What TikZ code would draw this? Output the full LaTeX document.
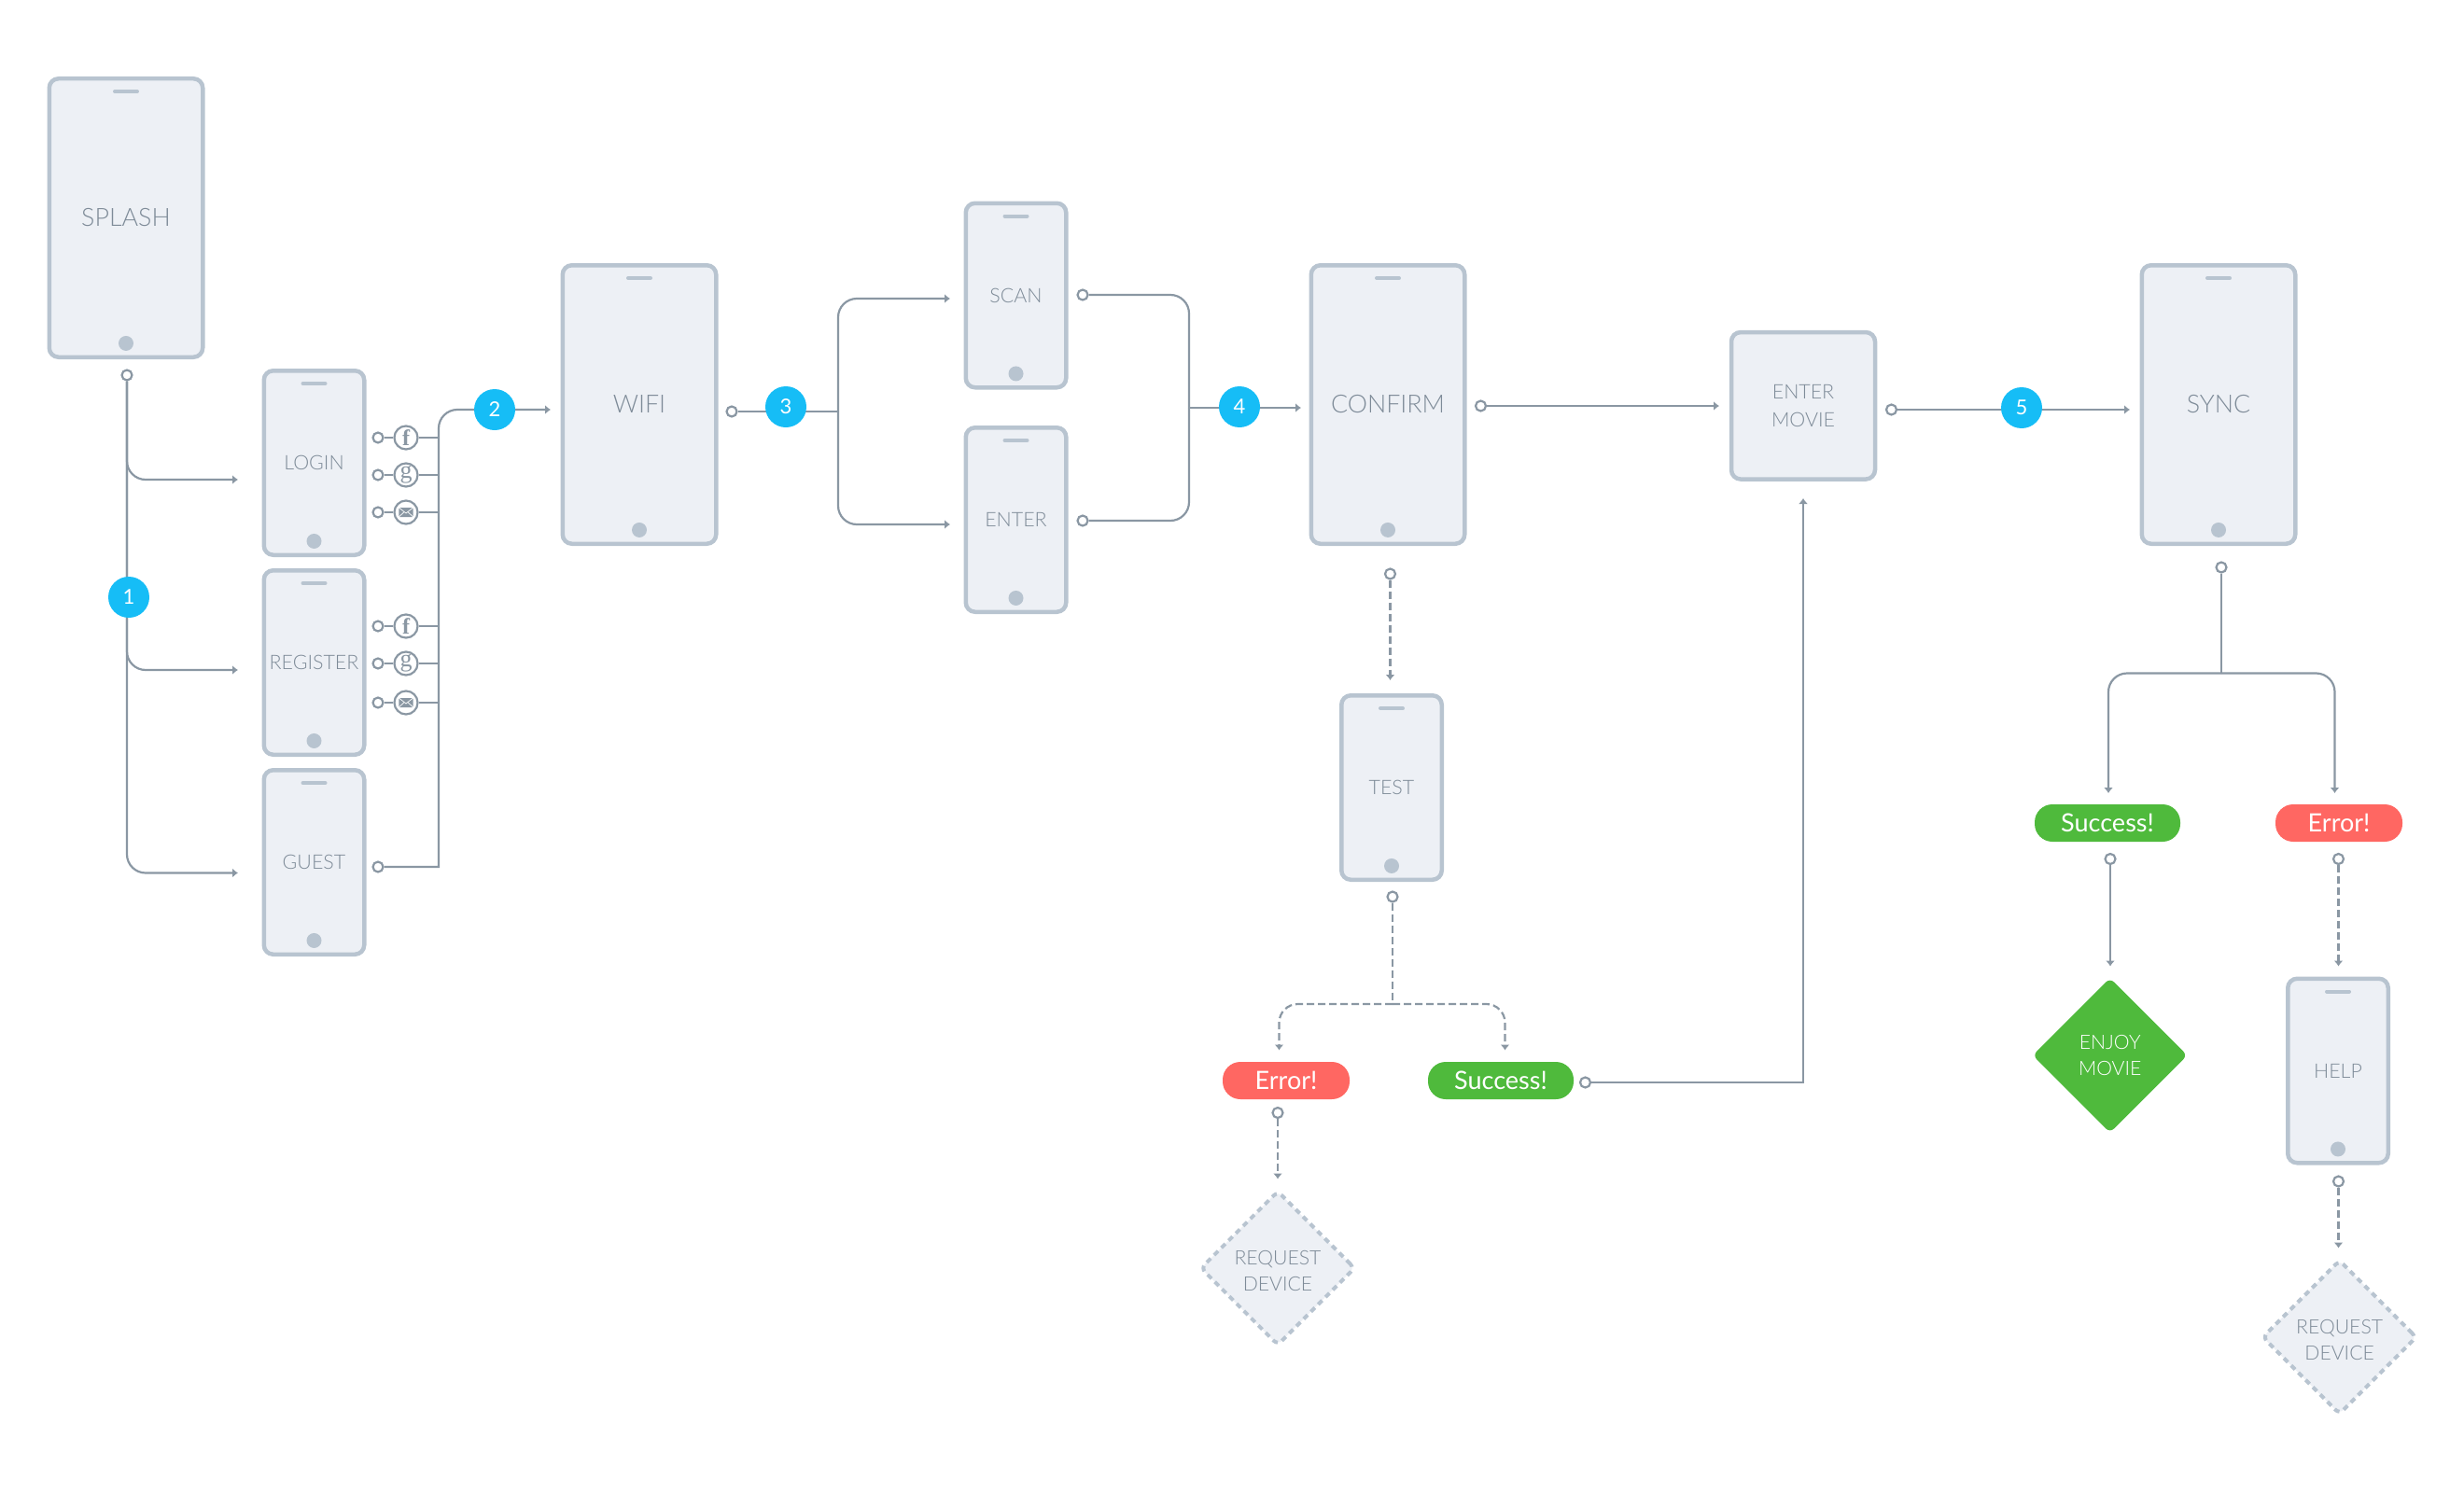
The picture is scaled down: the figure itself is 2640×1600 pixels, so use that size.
\documentclass[tikz,border=0pt]{standalone}
\usepackage{fontspec}
\setmainfont{Lato}
\newfontfamily\lightfont{Lato Light}
\newfontfamily\iconfont{Liberation Serif}
\usetikzlibrary{arrows.meta,shapes.geometric}
\definecolor{wire}{HTML}{8A97A3}
\definecolor{frame}{HTML}{B8C4D0}
\definecolor{screen}{HTML}{EDF0F5}
\definecolor{label}{HTML}{7E8B98}
\definecolor{okgreen}{HTML}{4FBA3C}
\definecolor{badred}{HTML}{FF6762}
\definecolor{stepblue}{HTML}{16BDF6}
\begin{document}
\begin{tikzpicture}[x=.5pt,y=-.5pt]
    \tikzstyle{screenbox} = [rectangle, draw=frame, fill=screen, line width=2.25pt, rounded corners=5pt, text=label, inner sep=0pt, align=center, font=\lightfont\fontsize{10.7}{15}\selectfont]
    \tikzstyle{phone} = [screenbox, path picture={
            \draw [frame, line width=2pt, line cap=round] ([xshift=-6pt, yshift=-6.9pt]path picture bounding box.north) -- ([xshift=6pt, yshift=-6.9pt]path picture bounding box.north);
            \fill [frame] ([yshift=7.4pt]path picture bounding box.south) circle (4pt);
        }]
    \tikzstyle{bigphone} = [phone, minimum width=82.25pt, minimum height=149.25pt, font=\lightfont\fontsize{13.4}{15}\selectfont]
    \tikzstyle{smallphone} = [phone, minimum width=53.75pt, minimum height=98.75pt]
    \tikzstyle{dot} = [circle, draw=wire, fill=white, line width=1.1pt, minimum size=5.5pt, inner sep=0pt]
    \tikzstyle{social} = [circle, draw=wire, fill=white, text=wire, line width=1.1pt, minimum size=12.5pt, inner sep=0pt]
    \tikzstyle{fbicon} = [social, font=\iconfont\bfseries\fontsize{12}{12}\selectfont]
    \tikzstyle{gicon} = [social, font=\iconfont\fontsize{13}{13}\selectfont]
    \tikzstyle{mailicon} = [social, path picture={
            \fill [wire, rounded corners=.5pt] ([xshift=-3.8pt, yshift=-2.5pt]path picture bounding box.center) rectangle ([xshift=3.8pt, yshift=2.5pt]path picture bounding box.center);
            \draw [white, line width=.35pt] ([xshift=-3.8pt, yshift=2.5pt]path picture bounding box.center) -- ([yshift=-.5pt]path picture bounding box.center) -- ([xshift=3.8pt, yshift=2.5pt]path picture bounding box.center);
            \draw [white, line width=.35pt] ([xshift=-3.8pt, yshift=-2.5pt]path picture bounding box.center) -- ([xshift=-1pt, yshift=.2pt]path picture bounding box.center);
            \draw [white, line width=.35pt] ([xshift=3.8pt, yshift=-2.5pt]path picture bounding box.center) -- ([xshift=1pt, yshift=.2pt]path picture bounding box.center);
        }]
    \tikzstyle{badge} = [circle, fill=stepblue, text=white, minimum size=22pt, inner sep=0pt, font=\fontsize{11}{12}\selectfont]
    \tikzstyle{pill} = [rectangle, rounded corners=9.5pt, text=white, minimum height=20pt, inner sep=0pt, font=\fontsize{13.5}{14}\selectfont]
    \tikzstyle{choice} = [diamond, aspect=1, rounded corners=3pt, minimum size=83pt, inner sep=0pt, align=center, font=\lightfont\fontsize{10.6}{14}\selectfont]
    \tikzstyle{missing} = [choice, draw=frame, fill=screen, text=label, line width=2pt, dash pattern=on 3pt off 2.5pt]
    \tikzstyle{flow} = [wire, line width=1.1pt]
    \tikzstyle{flowarrow} = [flow, -{Latex[length=3pt, width=5pt]}]
    \tikzstyle{maybe} = [dash pattern=on 4pt off 2pt]
    \tikzstyle{roundturn} = [rounded corners=10pt]

    \useasboundingbox (0,0) rectangle (2640,1600);

    \node [bigphone] (splash) at (135,233.5) {SPLASH};
    \node [smallphone] (login) at (336.5,496) {LOGIN};
    \node [smallphone] (register) at (336.5,710) {REGISTER};
    \node [smallphone] (guest) at (336.5,924) {GUEST};
    \node [bigphone] (wifi) at (685,433.5) {WIFI};
    \node [smallphone] (scan) at (1088.5,316.5) {SCAN};
    \node [smallphone] (enter) at (1088.5,557) {ENTER};
    \node [bigphone] (confirm) at (1487,433.5) {CONFIRM};
    \node [screenbox, minimum width=77pt, minimum height=78.75pt] (movie) at (1932,434.8) {ENTER\\MOVIE};
    \node [bigphone] (sync) at (2377,433.5) {SYNC};
    \node [smallphone] (test) at (1491,844) {TEST};
    \node [smallphone] (help) at (2505,1147.5) {HELP};

    \node [pill, fill=badred, minimum width=68pt] (testerror) at (1378,1158) {Error!};
    \node [pill, fill=okgreen, minimum width=78pt] (testsuccess) at (1608,1158) {Success!};
    \node [pill, fill=okgreen, minimum width=78pt] (syncsuccess) at (2258,882) {Success!};
    \node [pill, fill=badred, minimum width=68pt] (syncerror) at (2506,882) {Error!};

    \node [choice, fill=okgreen, text=white] (enjoy) at (2260.7,1131) {ENJOY\\MOVIE};
    \node [missing] (requesta) at (1369,1359) {\rule{0pt}{11pt}REQUEST\\DEVICE};
    \node [missing] (requestb) at (2506.6,1433) {\rule{0pt}{11pt}REQUEST\\DEVICE};

    \node [dot] (splashdot) at (136,402) {};
    \node [dot] (loginfdot) at (405,469) {};
    \node [dot] (logingdot) at (405,509) {};
    \node [dot] (loginmdot) at (405,549) {};
    \node [dot] (registerfdot) at (405,671) {};
    \node [dot] (registergdot) at (405,711) {};
    \node [dot] (registermdot) at (405,753) {};
    \node [dot] (guestdot) at (405,929) {};
    \node [dot] (wifidot) at (784,441) {};
    \node [dot] (scandot) at (1160,316) {};
    \node [dot] (enterdot) at (1160,558) {};
    \node [dot] (confirmdot) at (1586.5,435) {};
    \node [dot] (confirmdown) at (1489.5,615) {};
    \node [dot] (moviedot) at (2026.5,439) {};
    \node [dot] (syncdot) at (2380,608) {};
    \node [dot] (testdot) at (1492,961) {};
    \node [dot] (testerrordot) at (1369,1192.5) {};
    \node [dot] (testsuccessdot) at (1698.5,1160) {};
    \node [dot] (syncsuccessdot) at (2261,920.5) {};
    \node [dot] (syncerrordot) at (2505.5,920.5) {};
    \node [dot] (helpdot) at (2505.5,1266) {};

    \node [fbicon] (loginf) at (435,469) {f};
    \node [gicon] (loging) at (435,509) {g};
    \node [mailicon] (loginm) at (435,549) {};
    \node [fbicon] (registerf) at (435,671) {f};
    \node [gicon] (registerg) at (435,711) {g};
    \node [mailicon] (registerm) at (435,753) {};

    \coordinate (logintip) at (255,514);
    \coordinate (registertip) at (255,718);
    \coordinate (guesttip) at (255,935.5);
    \coordinate (busfoot) at (470,929);
    \coordinate (bustop) at (470,439);
    \coordinate (wifitip) at (590,439);
    \coordinate (wifisplit) at (898,441);
    \coordinate (scantip) at (1018,320);
    \coordinate (entertip) at (1018,562);
    \coordinate (wifijoin) at (1274,437);
    \coordinate (confirmtip) at (1394,437);
    \coordinate (movietip) at (1842,435);
    \coordinate (movieup) at (1932,534);
    \coordinate (synctip) at (2282,439);
    \coordinate (testtip) at (1489.5,729);
    \coordinate (testfork) at (1492,1076);
    \coordinate (testerrortip) at (1370.5,1125.5);
    \coordinate (testsuccesstip) at (1612.5,1125.5);
    \coordinate (requestatip) at (1369,1263.5);
    \coordinate (syncfork) at (2380,721.5);
    \coordinate (syncsuccesstip) at (2259,850);
    \coordinate (syncerrortip) at (2501.5,850);
    \coordinate (enjoytip) at (2261,1035.5);
    \coordinate (helptip) at (2505.5,1035.5);
    \coordinate (requestbtip) at (2505.5,1337.5);

    \draw [flowarrow, roundturn] (splashdot) |- (logintip);
    \draw [flowarrow, roundturn] (splashdot) |- (registertip);
    \draw [flowarrow, roundturn] (splashdot) |- (guesttip);

    \draw [flow] (loginfdot) -- (loginf);
    \draw [flow] (logingdot) -- (loging);
    \draw [flow] (loginmdot) -- (loginm);
    \draw [flow] (registerfdot) -- (registerf);
    \draw [flow] (registergdot) -- (registerg);
    \draw [flow] (registermdot) -- (registerm);
    \draw [flow] (loginf) -- (loginf -| busfoot);
    \draw [flow] (loging) -- (loging -| busfoot);
    \draw [flow] (loginm) -- (loginm -| busfoot);
    \draw [flow] (registerf) -- (registerf -| busfoot);
    \draw [flow] (registerg) -- (registerg -| busfoot);
    \draw [flow] (registerm) -- (registerm -| busfoot);
    \draw [flowarrow] (guestdot) -- (busfoot) [roundturn] -- (bustop) -- (wifitip);

    \draw [flow] (wifidot) -- (wifisplit);
    \draw [flowarrow, roundturn] (wifisplit) |- (scantip);
    \draw [flowarrow, roundturn] (wifisplit) |- (entertip);
    \draw [flow, roundturn] (scandot) -| (wifijoin);
    \draw [flow, roundturn] (enterdot) -| (wifijoin);
    \draw [flowarrow] (wifijoin) -- (confirmtip);

    \draw [flowarrow] (confirmdot) -- (movietip);
    \draw [flowarrow] (moviedot) -- (synctip);
    \draw [flowarrow, maybe] (confirmdown) -- (testtip);
    \draw [flow, maybe] (testdot) -- (testfork);
    \draw [flowarrow, maybe, roundturn] (testfork) -| (testerrortip);
    \draw [flowarrow, maybe, roundturn] (testfork) -| (testsuccesstip);
    \draw [flowarrow, maybe] (testerrordot) -- (requestatip);
    \draw [flowarrow] (testsuccessdot) -| (movieup);

    \draw [flow] (syncdot) -- (syncfork);
    \draw [flowarrow, roundturn] (syncfork) -| (syncsuccesstip);
    \draw [flowarrow, roundturn] (syncfork) -| (syncerrortip);
    \draw [flowarrow] (syncsuccessdot) -- (enjoytip);
    \draw [flowarrow, maybe] (syncerrordot) -- (helptip);
    \draw [flowarrow, maybe] (helpdot) -- (requestbtip);

    \node [badge] (stepone) at (138,640) {1};
    \node [badge] (steptwo) at (530,439) {2};
    \node [badge] (stepthree) at (842,436) {3};
    \node [badge] (stepfour) at (1328,436) {4};
    \node [badge] (stepfive) at (2166,437) {5};
\end{tikzpicture}
\end{document}
